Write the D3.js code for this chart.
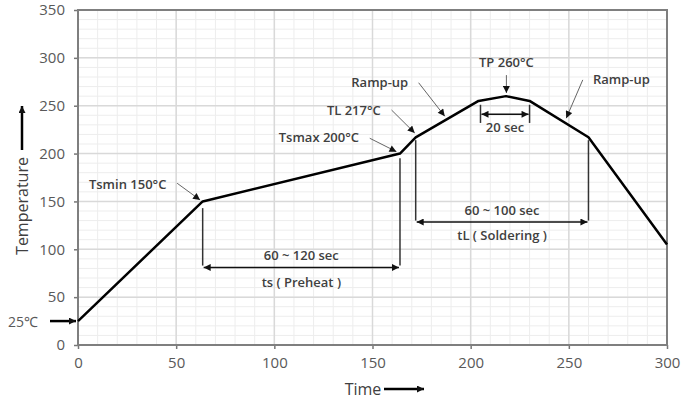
<!DOCTYPE html>
<html>
<head>
<meta charset="utf-8">
<script src="https://cdn.jsdelivr.net/npm/d3@7"></script>
<style>
  body { margin: 0; background: #fff; }
  .tick-label { font-family: "Open Sans", sans-serif; font-size: 15px; fill: #595959; }
  .note { font-family: "Open Sans", sans-serif; font-size: 13px; font-weight: 600; fill: #404040; }
  .axis-title { font-family: "Open Sans", sans-serif; font-size: 16px; fill: #404040; }
</style>
</head>
<body>
<div id="chart"></div>
<script>
// Reflow profile (time in s, temperature in °C)
const profileTime = [0, 63.5, 164, 172, 204, 218, 230, 260, 300];
const profileTemp = [25, 150, 200, 217, 255, 260, 255, 217, 105];

const xTicks = [0, 50, 100, 150, 200, 250, 300];
const yTicks = [0, 50, 100, 150, 200, 250, 300, 350];

// Callouts: text, where the text sits, where the pointer starts and ends
const noteText = ["Tsmin 150°C", "Tsmax 200°C", "TL 217°C", "Ramp-up", "TP 260°C", "Ramp-up"];
const noteAt = [[25.3, 168], [122.7, 217], [140.5, 245.5], [153.7, 275], [218.2, 296], [276.8, 277.6]];
const notePointer = [
  [[50.5, 169], [62.2, 151.5]],
  [[148.6, 216], [162.2, 202]],
  [[159.7, 245.5], [171.5, 221.5]],
  [[173.5, 274], [186.8, 239]],
  [[218.2, 282], [218.2, 263.3]],
  [[257.1, 277], [248.7, 237]]
];

// Time spans (double arrows) with their labels
const spanFrom = [63.5, 172, 205];
const spanTo = [164, 260, 230];
const spanLevel = [81, 128.5, 241];
const spanTop = ["60 ~ 120 sec", "60 ~ 100 sec", ""];
const spanBottom = ["ts ( Preheat )", "tL ( Soldering )", "20 sec"];
const spanTopAt = [94, 141, 0];
const spanBottomAt = [66, 115, 228];

// Guide lines dropped from the curve
const guideTime = [63.5, 164, 172, 260, 205, 230];
const guideTop = [143, 195, 214, 214, 251, 251];
const guideBottom = [83, 83, 130, 130, 232, 232];

const roomTemp = 25;

const w = 683, h = 400;
const margin = { top: 10, right: 16, bottom: 55, left: 78 };

const svg = d3.select("#chart").append("svg")
  .attr("width", w)
  .attr("height", h);

const defs = svg.append("defs");
defs.append("marker")
  .attr("id", "head")
  .attr("viewBox", "0 0 10 10")
  .attr("refX", 10).attr("refY", 5)
  .attr("markerWidth", 9).attr("markerHeight", 7)
  .attr("markerUnits", "userSpaceOnUse")
  .attr("orient", "auto-start-reverse")
  .append("path").attr("d", "M0,0 L10,5 L0,10 Z").attr("fill", "#111");
defs.append("marker")
  .attr("id", "thin")
  .attr("viewBox", "0 0 10 10")
  .attr("refX", 10).attr("refY", 5)
  .attr("markerWidth", 8).attr("markerHeight", 7)
  .attr("markerUnits", "userSpaceOnUse")
  .attr("orient", "auto")
  .append("path").attr("d", "M0,0 L10,5 L0,10 Z").attr("fill", "#111");

const xScale = d3.scaleLinear()
  .domain([0, 300])
  .range([margin.left, w - margin.right]);

const yScale = d3.scaleLinear()
  .domain([0, 350])
  .range([h - margin.bottom, margin.top]);

// Grid
const grid = svg.append("g");
grid.selectAll(".vminor").data(xScale.ticks(30)).enter().append("line")
  .attr("x1", d => xScale(d)).attr("x2", d => xScale(d))
  .attr("y1", yScale(0)).attr("y2", yScale(350))
  .attr("stroke", "#ededed").attr("stroke-width", 1);
grid.selectAll(".hminor").data(yScale.ticks(35)).enter().append("line")
  .attr("x1", xScale(0)).attr("x2", xScale(300))
  .attr("y1", d => yScale(d)).attr("y2", d => yScale(d))
  .attr("stroke", "#ededed").attr("stroke-width", 1);
grid.selectAll(".vmajor").data(xTicks).enter().append("line")
  .attr("x1", d => xScale(d)).attr("x2", d => xScale(d))
  .attr("y1", yScale(0)).attr("y2", yScale(350))
  .attr("stroke", "#d9d9d9").attr("stroke-width", 1.5);
grid.selectAll(".hmajor").data(yTicks).enter().append("line")
  .attr("x1", xScale(0)).attr("x2", xScale(300))
  .attr("y1", d => yScale(d)).attr("y2", d => yScale(d))
  .attr("stroke", "#d9d9d9").attr("stroke-width", 1.5);

// Axes
const xAxis = d3.axisBottom(xScale).tickValues(xTicks).tickSize(4).tickPadding(8);
const yAxis = d3.axisLeft(yScale).tickValues(yTicks).tickSize(4).tickPadding(9);

const gx = svg.append("g")
  .attr("transform", `translate(0,${yScale(0)})`)
  .call(xAxis);
const gy = svg.append("g")
  .attr("transform", `translate(${xScale(0)},0)`)
  .call(yAxis);
[gx, gy].forEach(g => {
  g.select(".domain").remove();
  g.selectAll(".tick line").attr("stroke", "#777").attr("stroke-width", 1.5);
  g.selectAll(".tick text").attr("class", "tick-label").attr("font-size", null).attr("font-family", null);
});

// Frame
svg.append("rect")
  .attr("x", xScale(0)).attr("y", yScale(350))
  .attr("width", xScale(300) - xScale(0))
  .attr("height", yScale(0) - yScale(350))
  .attr("fill", "none").attr("stroke", "#7f7f7f").attr("stroke-width", 2);

// Profile
const line = d3.line()
  .x(d => xScale(d[0]))
  .y(d => yScale(d[1]));
svg.append("path")
  .datum(profileTime.map((t, i) => [t, profileTemp[i]]))
  .attr("d", line)
  .attr("fill", "none")
  .attr("stroke", "#000")
  .attr("stroke-width", 2.5)
  .attr("stroke-linejoin", "round");

// Guide lines
svg.selectAll(".guide").data(guideTime).enter().append("line")
  .attr("x1", d => xScale(d)).attr("x2", d => xScale(d))
  .attr("y1", (d, i) => yScale(guideTop[i]))
  .attr("y2", (d, i) => yScale(guideBottom[i]))
  .attr("stroke", "#333").attr("stroke-width", 1.5);

// Span arrows
svg.selectAll(".span").data(spanFrom).enter().append("line")
  .attr("x1", d => xScale(d) + 1)
  .attr("x2", (d, i) => xScale(spanTo[i]) - 1)
  .attr("y1", (d, i) => yScale(spanLevel[i]))
  .attr("y2", (d, i) => yScale(spanLevel[i]))
  .attr("stroke", "#111").attr("stroke-width", 1.5)
  .attr("marker-start", "url(#head)")
  .attr("marker-end", "url(#head)");

spanFrom.forEach((d, i) => {
  const cx = (xScale(d) + xScale(spanTo[i])) / 2;
  if (spanTop[i]) {
    svg.append("text").attr("class", "note")
      .attr("x", cx).attr("y", yScale(spanTopAt[i]))
      .attr("text-anchor", "middle").attr("dominant-baseline", "central")
      .text(spanTop[i]);
  }
  svg.append("text").attr("class", "note")
    .attr("x", cx).attr("y", yScale(spanBottomAt[i]))
    .attr("text-anchor", "middle").attr("dominant-baseline", "central")
    .text(spanBottom[i]);
});

// Callouts
svg.selectAll(".pointer").data(notePointer).enter().append("line")
  .attr("x1", d => xScale(d[0][0])).attr("y1", d => yScale(d[0][1]))
  .attr("x2", d => xScale(d[1][0])).attr("y2", d => yScale(d[1][1]))
  .attr("stroke", "#666").attr("stroke-width", 1)
  .attr("marker-end", "url(#thin)");

svg.selectAll(".callout").data(noteText).enter().append("text")
  .attr("class", "note")
  .attr("x", (d, i) => xScale(noteAt[i][0]))
  .attr("y", (d, i) => yScale(noteAt[i][1]))
  .attr("text-anchor", "middle")
  .attr("dominant-baseline", "central")
  .text(d => d);

// Room temperature marker
svg.append("line")
  .attr("x1", xScale(0) - 28).attr("x2", xScale(0) - 2)
  .attr("y1", yScale(roomTemp)).attr("y2", yScale(roomTemp))
  .attr("stroke", "#000").attr("stroke-width", 2.5)
  .attr("marker-end", "url(#head)");
svg.append("text").attr("class", "tick-label")
  .attr("x", xScale(0) - 40).attr("y", yScale(roomTemp))
  .attr("text-anchor", "end").attr("dominant-baseline", "central")
  .style("font-size", "14px")
  .text(roomTemp + "\u2103");

// Axis titles with arrows
svg.append("text").attr("class", "axis-title")
  .attr("x", 363).attr("y", 389)
  .attr("text-anchor", "middle").attr("dominant-baseline", "central")
  .text("Time");
svg.append("line")
  .attr("x1", 384).attr("x2", 424)
  .attr("y1", 389).attr("y2", 389)
  .attr("stroke", "#000").attr("stroke-width", 2.5)
  .attr("marker-end", "url(#head)");

svg.append("text").attr("class", "axis-title")
  .attr("transform", "translate(22,206) rotate(-90)")
  .attr("text-anchor", "middle").attr("dominant-baseline", "central")
  .text("Temperature");
svg.append("line")
  .attr("x1", 22).attr("x2", 22)
  .attr("y1", 150).attr("y2", 106)
  .attr("stroke", "#000").attr("stroke-width", 2.5)
  .attr("marker-end", "url(#head)");
</script>
</body>
</html>
